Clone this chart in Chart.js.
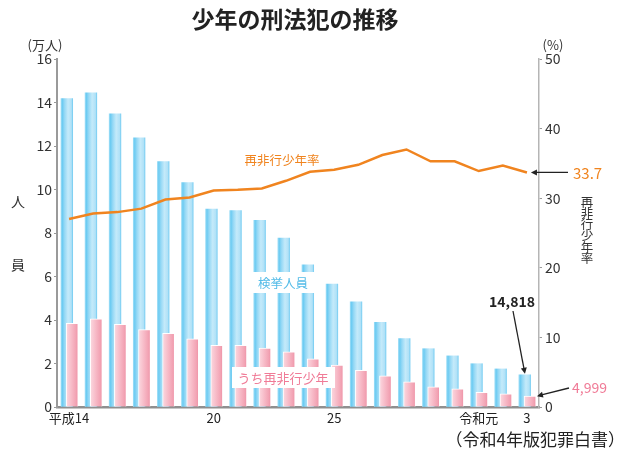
<!DOCTYPE html>
<html><head><meta charset="utf-8">
<script src="https://cdn.jsdelivr.net/npm/chart.js@4/dist/chart.umd.min.js"></script>
<style>html,body{margin:0;padding:0;background:#fff}#wrap{width:625px;height:456px}</style>
</head><body><div id="wrap"><canvas id="c" width="625" height="456"></canvas></div>
<script>
// ---- data ----
const years = ['平成14','15','16','17','18','19','20','21','22','23','24','25','26','27','28','29','30','令和元','2','3'];
const tickLabels = ['平成14','','','','','','20','','','','','25','','','','','','令和元','','3'];
const arrested = [14.18, 14.44, 13.48, 12.37, 11.28, 10.32, 9.10, 9.03, 8.58, 7.77, 6.54, 5.65, 4.84, 3.89, 3.15, 2.68, 2.35, 1.99, 1.75, 1.48];
const repeatOffenders = [3.85, 4.05, 3.80, 3.56, 3.39, 3.13, 2.84, 2.84, 2.71, 2.54, 2.22, 1.93, 1.69, 1.43, 1.16, 0.93, 0.83, 0.68, 0.61, 0.50];
const repeatRate = [27.0, 27.8, 28.0, 28.5, 29.8, 30.1, 31.1, 31.2, 31.4, 32.5, 33.8, 34.1, 34.8, 36.2, 37.0, 35.3, 35.3, 33.9, 34.7, 33.7];
const leftTicks = [0, 16, 2];
const rightTicks = [0, 50, 10];
const lastArrestedLabel = '14,818';
const lastRepeatLabel = '4,999';
const lastRateLabel = '33.7';
const titleText = '少年の刑法犯の推移';
const sourceText = '（令和4年版犯罪白書）';

const FONT = '"Noto Sans CJK JP", "Noto Sans", sans-serif';
const ORANGE = '#f0841f';
const PINK_TXT = '#f07b97';
const BLUE_TXT = '#55bce8';

// bar side-shift within each year slot (in category units) – styling only
const BLUE_SHIFT = -0.092;
const PINK_SHIFT = 0.13;
const N = years.length;

function grad(ctx, x0, x1, stops, fallback) {
  const chart = ctx.chart;
  if (ctx.type !== 'data' || !chart.chartArea || !chart.scales.x) return fallback;
  const c = chart.scales.x.getPixelForValue(ctx.dataIndex);
  const g = chart.ctx.createLinearGradient(c + x0, 0, c + x1, 0);
  stops.forEach(s => g.addColorStop(s[0], s[1]));
  return g;
}
const blueStops = [[0,'#9adcf6'],[0.12,'#6ccbf2'],[0.3,'#94d8f5'],[0.6,'#c4eafa'],[0.88,'#b0e1f7'],[1,'#76cdf2']];
const pinkStops = [[0,'#fbd6de'],[0.45,'#f7bac7'],[0.85,'#f2a2b3'],[1,'#ee93a7']];

function arrow(c, x0, y0, x1, y1, color) {
  c.save();
  c.strokeStyle = color; c.fillStyle = color; c.lineWidth = 1.3;
  const a = Math.atan2(y1 - y0, x1 - x0);
  const hl = 6, hw = 3;
  c.beginPath(); c.moveTo(x0, y0); c.lineTo(x1 - Math.cos(a) * hl * 0.8, y1 - Math.sin(a) * hl * 0.8); c.stroke();
  c.beginPath();
  c.moveTo(x1, y1);
  c.lineTo(x1 - Math.cos(a) * hl - Math.sin(a) * hw, y1 - Math.sin(a) * hl + Math.cos(a) * hw);
  c.lineTo(x1 - Math.cos(a) * hl + Math.sin(a) * hw, y1 - Math.sin(a) * hl - Math.cos(a) * hw);
  c.closePath(); c.fill();
  c.restore();
}

const annot = {
  id: 'annot',
  afterDatasetsDraw(chart) {
    const c = chart.ctx;
    const sx = chart.scales.x, sy = chart.scales.y, sy2 = chart.scales.y2;
    const n = N - 1;
    c.save();
    c.textBaseline = 'middle';
    c.fillStyle = '#222'; c.textAlign = 'center';
    c.font = 'bold 23px ' + FONT;
    c.fillText(titleText, 295, 19);
    c.font = '13px ' + FONT; c.fillStyle = '#333';
    c.fillText('(万人)', 45, 45);
    c.fillText('(%)', 553, 45);
    c.font = '14px ' + FONT;
    c.fillText('人', 18, 202);
    c.fillText('員', 18, 265);
    c.font = '12.5px ' + FONT;
    const vt = '再非行少年率';
    for (let i = 0; i < vt.length; i++) c.fillText(vt[i], 587, 202 + i * 11.2);
    c.font = '12.5px ' + FONT; c.fillStyle = ORANGE;
    c.fillText('再非行少年率', 282, 160);
    c.fillStyle = '#fff';
    c.fillRect(250, 272, 67, 21);
    c.fillStyle = BLUE_TXT;
    c.fillText('検挙人員', 283, 283);
    c.fillStyle = '#fff';
    c.fillRect(232, 367, 103, 21);
    c.font = '13px ' + FONT; c.fillStyle = PINK_TXT;
    c.fillText('うち再非行少年', 283, 378);
    const xl = sx.getPixelForValue(n);
    c.font = 'bold 14px ' + FONT; c.fillStyle = '#222';
    c.fillText(lastArrestedLabel, 512, 302);
    arrow(c, 513, 311, xl - 2, sy.getPixelForValue(arrested[n]) - 1, '#222');
    const yr = sy2.getPixelForValue(repeatRate[n]);
    arrow(c, 568, yr, xl + 4, yr, '#222');
    c.font = '15px ' + FONT; c.fillStyle = ORANGE; c.textAlign = 'left';
    c.fillText(lastRateLabel, 573, yr + 1);
    const yp = sy.getPixelForValue(repeatOffenders[n]);
    arrow(c, 569, 388, xl + 10, yp, '#222');
    c.font = '14px ' + FONT; c.fillStyle = PINK_TXT;
    c.fillText(lastRepeatLabel, 572, 388);
    c.font = '17px ' + FONT; c.fillStyle = '#222'; c.textAlign = 'right';
    c.fillText(sourceText, 625, 440);
    c.restore();
  }
};

const toXY = (arr) => arr.map((v, i) => ({ x: i, y: v }));
const hiddenX = (shift) => ({
  type: 'linear', display: false, bounds: 'data', offset: false, position: 'bottom',
  grid: { offset: false },
  min: -0.5 - shift, max: (N - 1) + 0.5 - shift, ticks: { stepSize: 1 }
});

new Chart(document.getElementById('c'), {
  type: 'bar',
  data: {
    labels: years,
    datasets: [
      { type: 'line', label: '再非行少年率', data: repeatRate, yAxisID: 'y2', xAxisID: 'x',
        borderColor: ORANGE, borderWidth: 2.5, pointRadius: 0, tension: 0, fill: false, order: 0 },
      { label: 'うち再非行少年', data: toXY(repeatOffenders), xAxisID: 'xp', yAxisID: 'y', grouped: false,
        backgroundColor: (ctx) => grad(ctx, -2.4, 8.7, pinkStops, '#f4a9b9'),
        borderColor: '#ffffff', borderWidth: {top: 1, left: 1, right: 1, bottom: 0}, borderSkipped: false,
        barThickness: 12, order: 1 },
      { label: '検挙人員', data: toXY(arrested), xAxisID: 'xb', yAxisID: 'y', grouped: false,
        backgroundColor: (ctx) => grad(ctx, -8.1, 3.7, blueStops, '#9fdaf5'),
        borderWidth: 0, barThickness: 11.7, order: 2 }
    ]
  },
  options: {
    responsive: false,
    animation: false,
    events: [],
    layout: { padding: { top: 59, left: 0, right: 0, bottom: 0 } },
    plugins: { legend: { display: false }, tooltip: { enabled: false }, title: { display: false } },
    scales: {
      x: {
        type: 'category', offset: true, position: 'bottom',
        grid: { display: false, drawTicks: false, tickLength: 0 },
        border: { display: true, color: '#8f8f8f', width: 2.5 },
        ticks: { autoSkip: false, maxRotation: 0, minRotation: 0, padding: 3,
          color: '#222', font: { family: FONT, size: 13 },
          callback: (v, i) => tickLabels[i] },
        afterFit: (s) => { s.height = 49; }
      },
      xb: hiddenX(BLUE_SHIFT),
      xp: hiddenX(PINK_SHIFT),
      y: {
        position: 'left', min: leftTicks[0], max: leftTicks[1],
        ticks: { stepSize: leftTicks[2], padding: 2, color: '#333', font: { family: FONT, size: 14 } },
        grid: { drawOnChartArea: false, drawTicks: true, tickLength: 3, color: '#999', lineWidth: 1 },
        border: { display: true, color: '#9a9a9a', width: 2 },
        afterFit: (s) => { s.width = 57; }
      },
      y2: {
        position: 'right', min: rightTicks[0], max: rightTicks[1],
        ticks: { stepSize: rightTicks[2], padding: 3, color: '#333', font: { family: FONT, size: 14 } },
        grid: { drawOnChartArea: false, drawTicks: true, tickLength: 3, color: '#999', lineWidth: 1 },
        border: { display: true, color: '#b5b5b5', width: 1.5 },
        afterFit: (s) => { s.width = 86; }
      }
    }
  },
  plugins: [annot]
});
</script>
</body></html>
